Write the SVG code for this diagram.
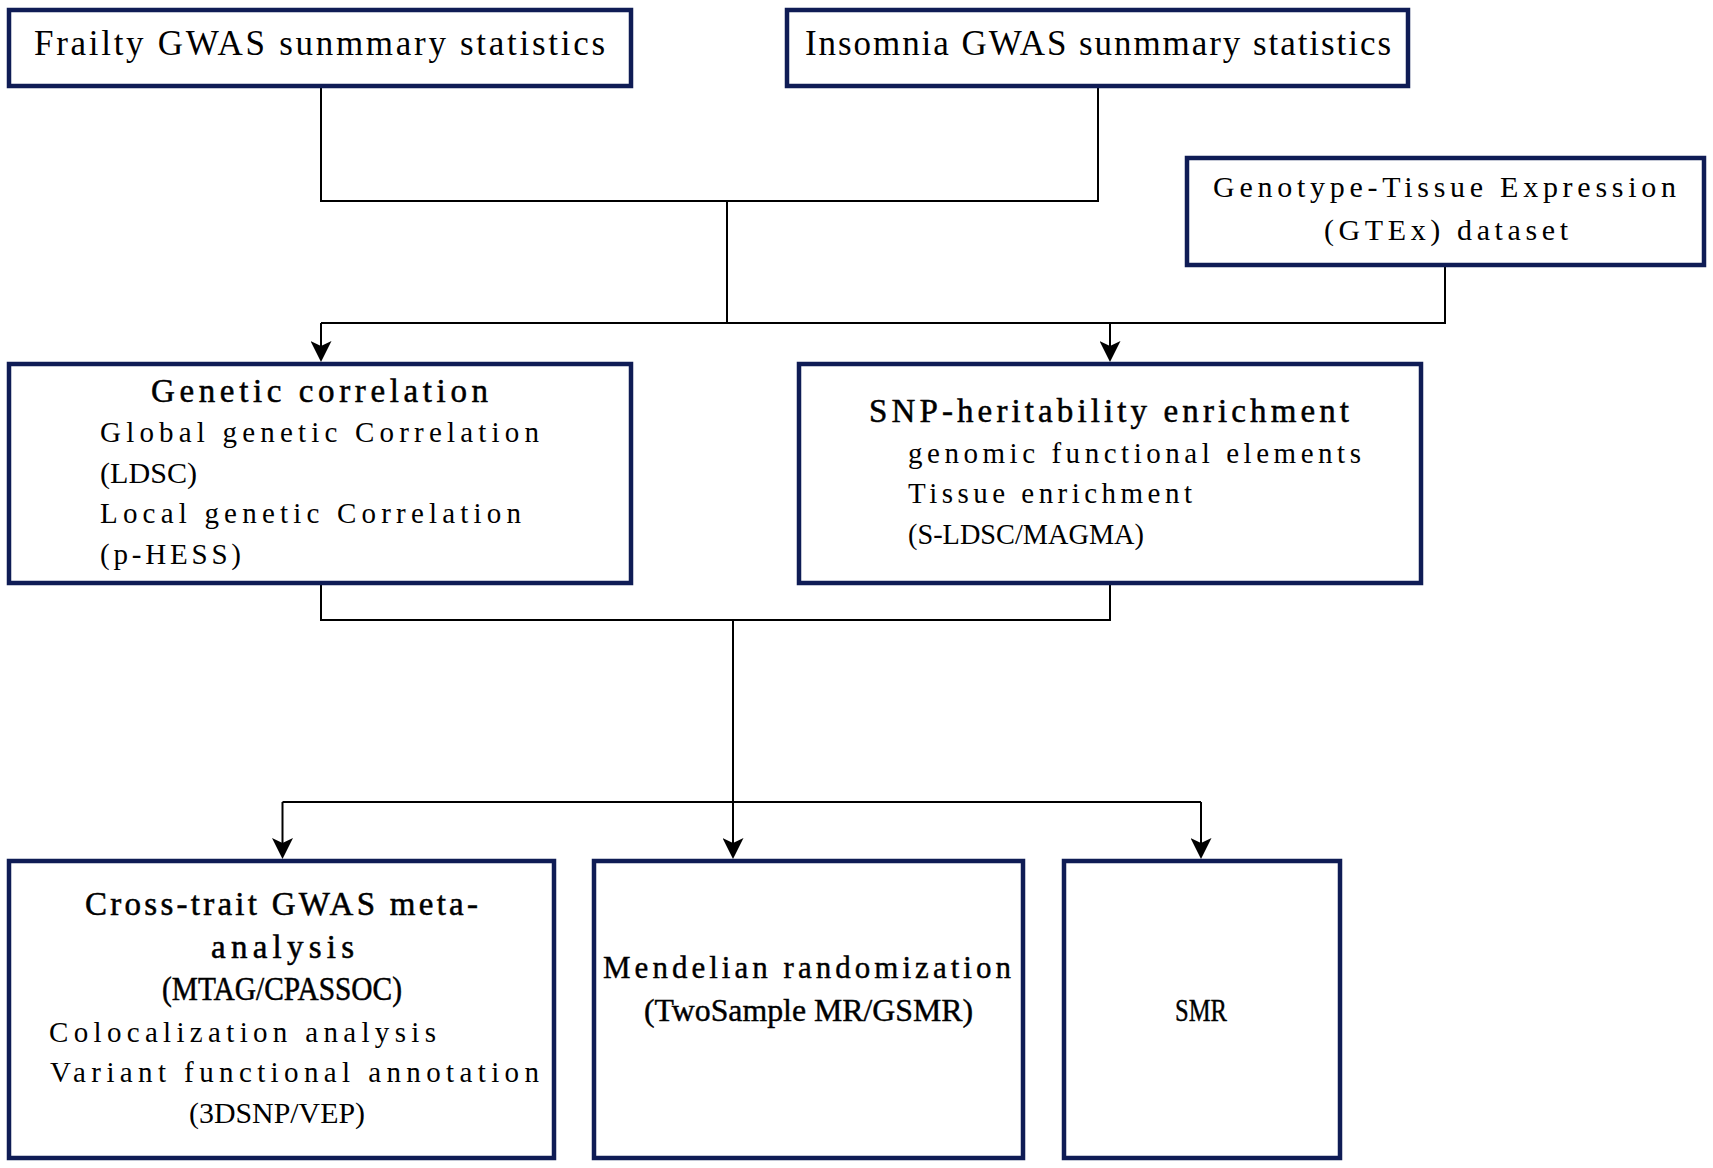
<svg xmlns="http://www.w3.org/2000/svg" width="1713" height="1168" viewBox="0 0 1713 1168">
<style>
.box{fill:#fff;stroke:#0f1c55;stroke-width:4.5}
.ln{fill:none;stroke:#000;stroke-width:2}
text{font-family:"Liberation Serif","Times New Roman",serif;fill:#000}
.top{font-size:35px}
.gt{font-size:30px}
.ti{font-size:33px;stroke:#000;stroke-width:0.5}
.bd{font-size:29px}
.mr{font-size:31px;stroke:#000;stroke-width:0.4}
</style>
<defs>
<marker id="ah" viewBox="0 0 21 21" refX="11" refY="10.5" markerWidth="21" markerHeight="21" markerUnits="userSpaceOnUse" orient="auto">
<path d="M0,0 L21,10.5 L0,21 L5,10.5 Z" fill="#000"/>
</marker>
</defs>
<g id="connectors">
<polyline class="ln" points="321,88 321,201 1098,201 1098,88"/>
<line class="ln" x1="727" y1="201" x2="727" y2="323"/>
<polyline class="ln" points="1445,267 1445,323 321,323"/>
<line class="ln" x1="321" y1="323" x2="321" y2="352" marker-end="url(#ah)"/>
<line class="ln" x1="1110" y1="323" x2="1110" y2="352" marker-end="url(#ah)"/>
<polyline class="ln" points="321,585 321,620 1110,620 1110,585"/>
<line class="ln" x1="733" y1="620" x2="733" y2="849" marker-end="url(#ah)"/>
<line class="ln" x1="282.5" y1="802" x2="1201" y2="802"/>
<line class="ln" x1="282.5" y1="802" x2="282.5" y2="849" marker-end="url(#ah)"/>
<line class="ln" x1="1201" y1="802" x2="1201" y2="849" marker-end="url(#ah)"/>
</g>
<g id="frailty">
<rect class="box" x="9" y="10" width="622" height="76"/>
<text class="top" x="34" y="55" textLength="571" lengthAdjust="spacing">Frailty GWAS sunmmary statistics</text>
</g>
<g id="insomnia">
<rect class="box" x="787" y="10" width="621" height="76"/>
<text class="top" x="805" y="55" textLength="586" lengthAdjust="spacing">Insomnia GWAS sunmmary statistics</text>
</g>
<g id="gtex">
<rect class="box" x="1187" y="158" width="517" height="107"/>
<text class="gt" x="1213" y="197" textLength="463" lengthAdjust="spacing">Genotype-Tissue Expression</text>
<text class="gt" x="1324" y="240" textLength="244" lengthAdjust="spacing">(GTEx) dataset</text>
</g>
<g id="genetic">
<rect class="box" x="9" y="364" width="622" height="219"/>
<text class="ti" x="151" y="402" textLength="337" lengthAdjust="spacing">Genetic correlation</text>
<text class="bd" x="100" y="442" textLength="439" lengthAdjust="spacing">Global genetic Correlation</text>
<text class="bd" x="100" y="483" textLength="97" lengthAdjust="spacingAndGlyphs">(LDSC)</text>
<text class="bd" x="100" y="523" textLength="421" lengthAdjust="spacing">Local genetic Correlation</text>
<text class="bd" x="100" y="564" textLength="141" lengthAdjust="spacing">(p-HESS)</text>
</g>
<g id="snp">
<rect class="box" x="799" y="364" width="622" height="219"/>
<text class="ti" x="869" y="422" textLength="480" lengthAdjust="spacing">SNP-heritability enrichment</text>
<text class="bd" x="908" y="463" textLength="453" lengthAdjust="spacing">genomic functional elements</text>
<text class="bd" x="908" y="503" textLength="284" lengthAdjust="spacing">Tissue enrichment</text>
<text class="bd" x="908" y="544" textLength="236" lengthAdjust="spacingAndGlyphs">(S-LDSC/MAGMA)</text>
</g>
<g id="crosstrait">
<rect class="box" x="9" y="861" width="545" height="297"/>
<text class="ti" x="85" y="915" textLength="393" lengthAdjust="spacing">Cross-trait GWAS meta-</text>
<text class="ti" x="211" y="958" textLength="143" lengthAdjust="spacing">analysis</text>
<text class="ti" x="162" y="1000" textLength="240" lengthAdjust="spacingAndGlyphs">(MTAG/CPASSOC)</text>
<text class="bd" x="49" y="1042" textLength="387" lengthAdjust="spacing">Colocalization analysis</text>
<text class="bd" x="50" y="1082" textLength="489" lengthAdjust="spacing">Variant functional annotation</text>
<text class="bd" x="189" y="1123" textLength="176" lengthAdjust="spacingAndGlyphs">(3DSNP/VEP)</text>
</g>
<g id="mendelian">
<rect class="box" x="594" y="861" width="429" height="297"/>
<text class="mr" x="603" y="978" textLength="408" lengthAdjust="spacing">Mendelian randomization</text>
<text class="mr" x="644" y="1021" textLength="329" lengthAdjust="spacingAndGlyphs">(TwoSample MR/GSMR)</text>
</g>
<g id="smr">
<rect class="box" x="1064" y="861" width="276" height="297"/>
<text class="mr" x="1175" y="1021" textLength="52" lengthAdjust="spacingAndGlyphs">SMR</text>
</g>
</svg>
